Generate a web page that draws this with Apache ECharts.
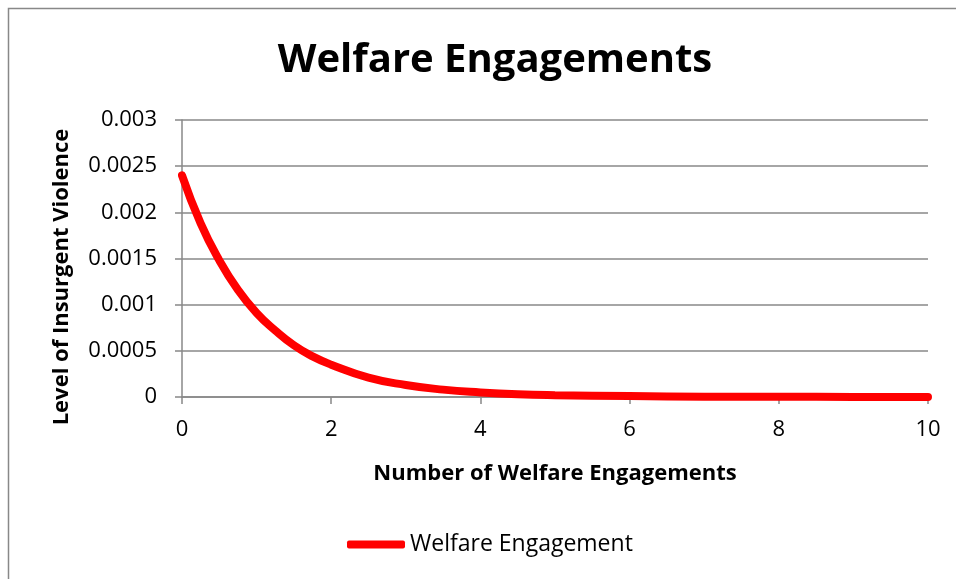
<!DOCTYPE html>
<html>
<head>
<meta charset="utf-8">
<script src="https://cdn.jsdelivr.net/npm/echarts@6/dist/echarts.min.js"></script>
<style>
html,body{margin:0;padding:0;background:#fff;}
#chart{width:956px;height:579px;}
</style>
</head>
<body>
<div id="chart"></div>
<script>
const chartTitle = 'Welfare Engagements';
const xAxisName = 'Number of Welfare Engagements';
const yAxisName = 'Level of Insurgent Violence';
const seriesName = 'Welfare Engagement';
const xValues = [0, 0.25, 0.5, 0.75, 1, 1.25, 1.5, 1.75, 2, 2.5, 3, 3.5, 4, 4.5, 5, 6, 7, 8, 9, 10];
const yValues = [0.0024, 0.00188, 0.00148, 0.00116, 0.00091, 0.00072, 0.00056, 0.00044, 0.00035, 0.00021, 0.00013, 0.00008, 0.00005, 0.00003, 0.00002, 0.00001, 0.000004, 0.000002, 0.000001, 0.0000005];
const yTickLabels = ['0', '0.0005', '0.001', '0.0015', '0.002', '0.0025', '0.003'];

const FONT = '"Open Sans", sans-serif';
const chart = echarts.init(document.getElementById('chart'));
const data = xValues.map((x, i) => [x, yValues[i]]);

chart.setOption({
  animation: false,
  backgroundColor: '#ffffff',
  title: {
    text: chartTitle,
    left: 490, top: 36, textAlign: 'center',
    textStyle: {fontFamily: FONT, fontWeight: 'bold', fontSize: 40, color: '#000'}
  },
  graphic: [{
    type: 'rect', shape: {x: 8.5, y: 8.5, width: 1000, height: 1000},
    style: {fill: 'none', stroke: '#888', lineWidth: 1.5}, silent: true, z: -1
  }, {
    type: 'text', x: 62, y: 277, rotation: Math.PI / 2,
    style: {text: yAxisName, fontFamily: FONT, fontWeight: 'bold', fontSize: 22,
      fill: '#000', align: 'center', verticalAlign: 'middle'},
    silent: true
  }],
  legend: {
    data: [seriesName],
    left: 342, top: 528,
    itemWidth: 58, itemHeight: 8, itemGap: 0,
    icon: 'roundRect',
    textStyle: {fontFamily: FONT, fontSize: 23, color: '#000', padding: [0,0,0,0]}
  },
  grid: {left: 182, right: 28, top: 120, bottom: 182, containLabel: false},
  xAxis: {
    type: 'value', min: 0, max: 10, interval: 2,
    name: xAxisName, nameLocation: 'middle', nameGap: 66,
    nameTextStyle: {fontFamily: FONT, fontWeight: 'bold', fontSize: 22, color: '#000'},
    axisLine: {show: true, lineStyle: {color: '#888', width: 1.5}},
    axisTick: {show: true, length: 7, lineStyle: {color: '#888', width: 1.5}},
    axisLabel: {fontFamily: FONT, fontSize: 22, color: '#000', margin: 22},
    splitLine: {show: false}
  },
  yAxis: {
    type: 'value', min: 0, max: 0.003, interval: 0.0005,
    axisLine: {show: true, lineStyle: {color: '#888', width: 1.5}},
    axisTick: {show: true, length: 7, lineStyle: {color: '#888', width: 1.5}},
    axisLabel: {fontFamily: FONT, fontSize: 22, color: '#000', margin: 25,
      formatter: (v) => yTickLabels[Math.round(v / 0.0005)]},
    splitLine: {show: true, lineStyle: {color: '#888', width: 1.5}}
  },
  series: [{
    name: seriesName, type: 'line', data: data,
    smooth: true, showSymbol: false, symbol: 'none',
    lineStyle: {color: '#ff0000', width: 8, cap: 'round'},
    itemStyle: {color: '#ff0000'}
  }]
});
</script>
</body>
</html>
